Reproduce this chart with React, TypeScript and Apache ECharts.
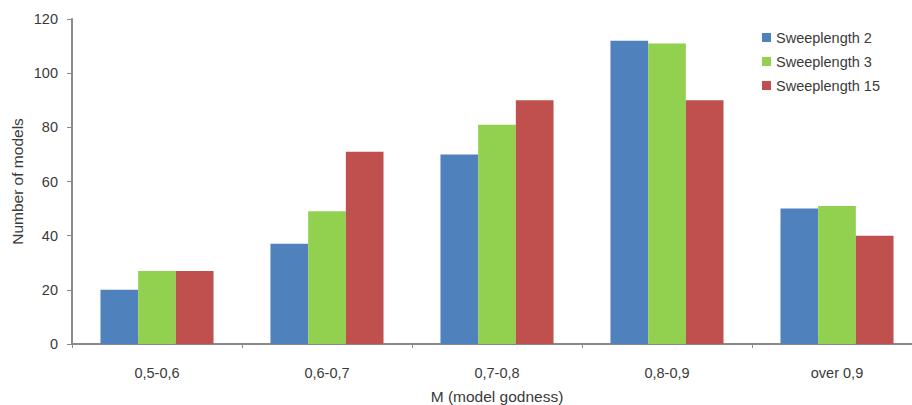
import React, { useEffect, useRef } from "react";
import * as echarts from "echarts";

const categories = ["0,5-0,6", "0,6-0,7", "0,7-0,8", "0,8-0,9", "over 0,9"];
const sweep2 = [20, 37, 70, 112, 50];
const sweep3 = [27, 49, 81, 111, 51];
const sweep15 = [27, 71, 90, 90, 40];

const FONT = "'Liberation Sans', Arial, sans-serif";
const TEXT = "#3a3a3a";
const AXIS = "#8a8a8a";

export default function App() {
  const ref = useRef<HTMLDivElement>(null);

  useEffect(() => {
    if (!ref.current) return;
    const chart = echarts.init(ref.current, undefined, { renderer: "svg" });
    const bar = (name: string, data: number[], color: string) => ({
      name,
      type: "bar",
      data,
      barGap: "0%",
      barCategoryGap: "33.5%",
      itemStyle: { color },
    });
    chart.setOption({
      animation: false,
      backgroundColor: "#ffffff",
      textStyle: { fontFamily: FONT },
      grid: {
        left: 72,
        top: 19,
        bottom: 61,
        width: 850,
        containLabel: false,
        outerBoundsMode: "none",
      },
      legend: {
        orient: "vertical",
        left: 757,
        top: 25,
        itemWidth: 9,
        itemHeight: 9,
        itemGap: 9,
        icon: "rect",
        textStyle: { fontSize: 14.5, color: TEXT, fontFamily: FONT },
        data: ["Sweeplength 2", "Sweeplength 3", "Sweeplength 15"],
      },
      xAxis: {
        type: "category",
        data: categories,
        name: "M (model godness)",
        nameLocation: "middle",
        nameGap: 44,
        nameTextStyle: { fontSize: 15.5, color: TEXT, fontFamily: FONT },
        axisLine: { lineStyle: { color: AXIS, width: 2 } },
        axisTick: { show: true, length: 4, lineStyle: { color: AXIS } },
        axisLabel: { fontSize: 14.5, color: TEXT, margin: 21, fontFamily: FONT },
        splitLine: { show: false },
      },
      yAxis: {
        type: "value",
        min: 0,
        max: 120,
        interval: 20,
        name: "Number of models",
        nameLocation: "middle",
        nameGap: 47,
        nameMoveOverlap: false,
        nameTextStyle: { fontSize: 15.5, color: TEXT, fontFamily: FONT },
        axisLine: { show: true, lineStyle: { color: AXIS, width: 2 } },
        axisTick: { show: true, length: 5, lineStyle: { color: AXIS } },
        axisLabel: { fontSize: 14.5, color: TEXT, margin: 14, fontFamily: FONT },
        splitLine: { show: false },
      },
      series: [
        bar("Sweeplength 2", sweep2, "#4f81bd"),
        bar("Sweeplength 3", sweep3, "#92d050"),
        bar("Sweeplength 15", sweep15, "#c0504d"),
      ],
    });
    return () => chart.dispose();
  }, []);

  return (
    <div
      ref={ref}
      style={{ position: "fixed", left: 0, top: 0, width: 912, height: 405 }}
    />
  );
}
